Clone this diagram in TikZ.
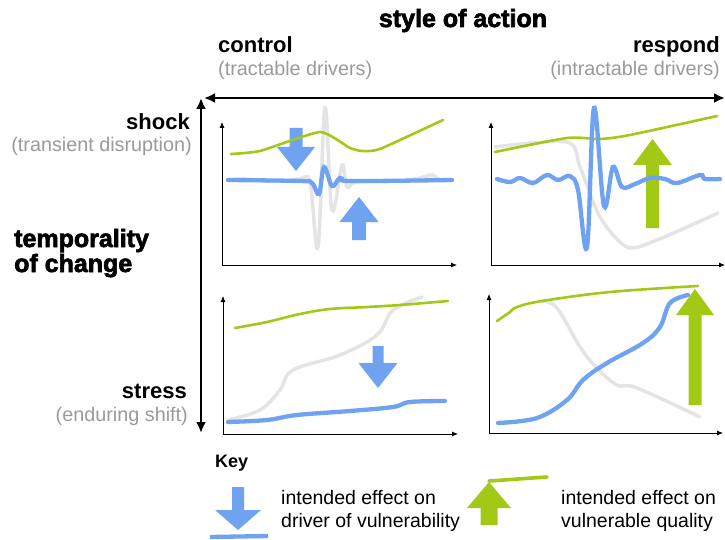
\documentclass[tikz,border=0pt]{standalone}
\usepackage{fontspec}
\setmainfont{Liberation Sans}
\newfontface\heavyfont{Liberation Sans Bold}[FakeBold=2.6]
\usetikzlibrary{arrows.meta}
\definecolor{drvblue}{HTML}{6FA3F2}
\definecolor{qualgreen}{HTML}{A2C916}
\definecolor{tracegray}{HTML}{E4E4E4}
\definecolor{notegray}{HTML}{9A9A9A}
\newcommand{\blockarrow}[7]{\fill[#1] (#2-#6,#3) -- (#2-#6,#4) -- (#2-#7,#4) -- (#2,#5) -- (#2+#7,#4) -- (#2+#6,#4) -- (#2+#6,#3) -- cycle;}
\begin{document}
\begin{tikzpicture}[x=1pt,y=-1pt,
    every node/.style={inner sep=0pt},
    heading/.style={font=\fontsize{25}{28}\heavyfont},
    pole/.style={font=\fontsize{22}{25}\selectfont\bfseries},
    note/.style={text=notegray,font=\fontsize{19.8}{22}\selectfont},
    keyhead/.style={font=\fontsize{18}{20}\selectfont\bfseries},
    keytext/.style={font=\fontsize{19.5}{22}\selectfont},
    bigarrow/.style={{Latex[length=11pt,width=10pt]}-{Latex[length=11pt,width=10pt]},line width=2.6pt},
    axis/.style={{Latex[length=6pt,width=5pt]}-{Latex[length=6pt,width=5pt]},line width=0.8pt},
    driver/.style={drvblue,line width=4.3pt,line cap=round},
    quality/.style={qualgreen,line width=2.6pt,line cap=round},
    trace/.style={tracegray,line width=3.5pt,line cap=round}]
  \useasboundingbox (0,0) rectangle (725,540);
  \node[heading,anchor=base] (styleact) at (463,27) {style of action};
  \node[pole,anchor=base west] (ctrl) at (218,53) {control};
  \node[note,anchor=base west] (ctrlnote) at (218,76) {(tractable drivers)};
  \node[pole,anchor=base east] (resp) at (720,53) {respond};
  \node[note,anchor=base east] (respnote) at (720,76) {(intractable drivers)};
  \node[pole,anchor=base east] (shock) at (190,130) {shock};
  \node[note,anchor=base east] (shocknote) at (192,152) {(transient disruption)};
  \node[heading,anchor=base west] (temp) at (14,247) {temporality};
  \node[heading,anchor=base west] (chg) at (14,272) {of change};
  \node[pole,anchor=base east] (stress) at (187,398) {stress};
  \node[note,anchor=base east] (stressnote) at (188,421) {(enduring shift)};
  \node[keyhead,anchor=base west] (key) at (215,467) {Key};
  \node[keytext,anchor=base west] (keyblue1) at (281,504) {intended effect on};
  \node[keytext,anchor=base west] (keyblue2) at (281,527) {driver of vulnerability};
  \node[keytext,anchor=base west] (keygreen1) at (561,504) {intended effect on};
  \node[keytext,anchor=base west] (keygreen2) at (561,527) {vulnerable quality};
  \coordinate (hleft) at (204,98); \coordinate (hright) at (725,98);
  \coordinate (vtop) at (201,98); \coordinate (vbot) at (201,433);
  \draw[bigarrow] (hleft) -- (hright);
  \draw[bigarrow] (vtop) -- (vbot);
  \draw[axis] (222,122) |- (457,265);
  \draw[axis] (491,122) |- (725,265);
  \draw[axis] (223,296) |- (458,434);
  \draw[axis] (489,294) |- (723,433);
  \blockarrow{drvblue}{296}{128}{147}{171}{6.5}{19}
  \blockarrow{drvblue}{359}{240}{222}{197}{7}{19.5}
  \blockarrow{qualgreen}{652.5}{228}{165}{139}{6.5}{19.5}
  \blockarrow{drvblue}{378}{346}{363}{388}{5.5}{19.5}
  \blockarrow{qualgreen}{695}{405}{315}{289}{6.5}{19}
  \blockarrow{drvblue}{238}{487}{510}{530}{6}{23}
  \blockarrow{qualgreen}{489}{525}{508}{482}{8.5}{22}
  \draw[driver,line cap=butt] (210,537) -- (268,536);
  \draw[quality,line width=3.6pt] (489,481) -- (547,477);
  \draw[trace] plot[smooth,tension=0.6] coordinates {(228,180) (245,179) (265,181) (285,181) (300,179) (310,182) (318,247) (325,108) (332,210) (342,165) (347,187) (357,182) (400,181) (420,178) (432,175) (440,180) (452,180)};
  \draw[quality] plot[smooth,tension=0.3] coordinates {(231,154) (260,151) (320,132) (350,148) (362,151) (380,149) (443,120)};
  \draw[driver] plot[smooth,tension=0.6] coordinates {(228,180) (300,181) (312,183) (319,194) (324,167) (332,186) (340,178) (350,181) (452,180)};
  \draw[trace] plot[smooth,tension=0.5] coordinates {(495,147) (567,142) (580,167) (600,217) (627,247) (657,240) (718,213)};
  \draw[quality] plot[smooth,tension=0.4] coordinates {(495,152) (567,138) (600,139) (630,135) (717,116)};
  \draw[driver] plot[smooth,tension=0.6] coordinates {(497,179) (510,182) (520,178) (533,183) (547,175) (558,180) (570,176) (578,190) (587,247) (594,108) (604,206) (613,167) (622,187) (635,184) (650,178) (665,179) (677,183) (700,175) (705,179) (720,179)};
  \draw[trace] plot[smooth,tension=0.6] coordinates {(228,420) (260,410) (280,390) (293,370) (340,355) (377,335) (393,310) (422,297)};
  \draw[quality] plot[smooth,tension=0.6] coordinates {(235,328) (267,322) (300,314) (330,309) (367,307) (400,305) (448,301)};
  \draw[driver] plot[smooth,tension=0.6] coordinates {(228,422) (267,420) (297,415) (350,411) (393,407) (410,402) (445,401)};
  \draw[trace] plot[smooth,tension=0.6] coordinates {(542,301) (557,308) (580,347) (597,368) (617,385) (637,388) (700,417)};
  \draw[quality] plot[smooth,tension=0.6] coordinates {(497,321) (510,312) (517,307) (542,301) (610,292) (698,286)};
  \draw[driver] plot[smooth,tension=0.6] coordinates {(498,423) (537,418) (567,400) (583,380) (607,363) (643,343) (660,327) (670,303) (688,295)};
\end{tikzpicture}
\end{document}
